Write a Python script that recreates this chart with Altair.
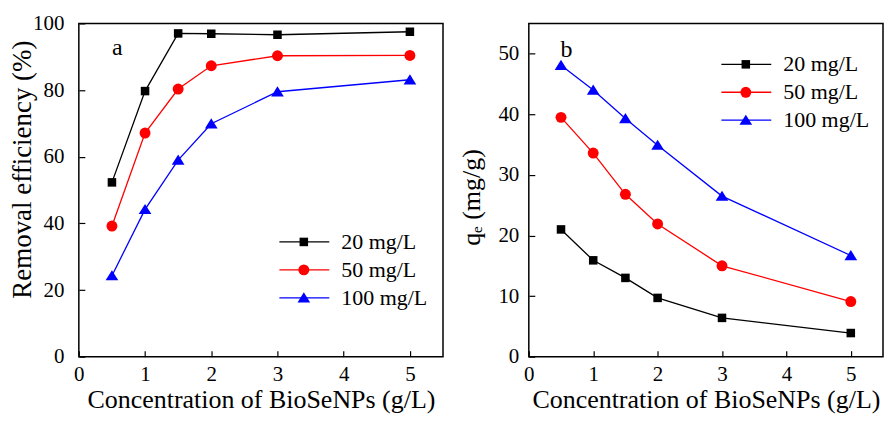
import altair as alt
import pandas as pd

# ---- data ----
x_dose = [0.5, 1, 1.5, 2, 3, 5]
series_labels = ["\u00a0\u00a020 mg/L", "\u00a0\u00a050 mg/L", "100 mg/L"]
series_keys = ["c20", "c50", "c100"]
series_colors = ["#000000", "#ff0000", "#0000ff"]

removal_20 = [52.3, 79.7, 97.0, 96.9, 96.6, 97.5]
removal_50 = [39.2, 67.1, 80.3, 87.3, 90.3, 90.4]
removal_100 = [24.3, 44.2, 59.0, 69.9, 79.5, 83.1]

qe_20 = [21.0, 15.9, 13.0, 9.7, 6.4, 3.9]
qe_50 = [39.5, 33.6, 26.8, 21.9, 15.0, 9.1]
qe_100 = [48.1, 44.0, 39.3, 34.9, 26.5, 16.7]

x_ticks = [0, 0.5, 1, 1.5, 2, 2.5, 3, 3.5, 4, 4.5, 5]
y_ticks_a = [0, 10, 20, 30, 40, 50, 60, 70, 80, 90, 100]
y_ticks_b = [0, 5, 10, 15, 20, 25, 30, 35, 40, 45, 50]

tags = ["a", "b"]
tag_x = [0.58, 0.586]
tag_y = [90.4, 49.4]

FONT = "Liberation Serif"
SQUARE = "M-0.78,-0.78H0.78V0.78H-0.78Z"
TRIANGLE = "M0,-1L1.16,0.85L-1.16,0.85Z"
LINE_SYM = "M-5,0H5"
series_shapes = [SQUARE, "circle", TRIANGLE]


def long_df(rows):
    recs = []
    for lab, key, vals in zip(series_labels, series_keys, rows):
        for x, v in zip(x_dose, vals):
            recs.append({"x": x, "v": v, "s": lab, "k": key})
    return pd.DataFrame(recs)


def panel(df, ydomain, yticks, yevery, ytitle, ytitle_size, ytitle_y, width,
          ylab_pad, ytitle_pad, lx, ly, tag, tx, ty):
    xscale = alt.Scale(domain=[0, 5.5], nice=False, zero=False)
    yscale = alt.Scale(domain=ydomain, nice=False, zero=False)
    xaxis = alt.Axis(
        values=x_ticks, format="d",
        labelExpr="datum.value % 1 === 0 ? datum.label : ''",
        offset=-6, tickSize=6, tickWidth=1.2, domain=False, grid=False,
        labelPadding=7, labelFlush=False, labelOverlap=False,
        labelFont=FONT, labelFontSize=21, labelColor="black",
        title="Concentration of BioSeNPs (g/L)",
        titleFont=FONT, titleFontSize=26, titlePadding=2,
    )
    yaxis = alt.Axis(
        values=yticks, format="d",
        labelExpr="datum.value %% %d === 0 ? datum.label : ''" % yevery,
        offset=-6, tickSize=6, tickWidth=1.2, domain=False, grid=False,
        labelPadding=ylab_pad, labelFlush=False, labelOverlap=False,
        labelFont=FONT, labelFontSize=21, labelColor="black",
        title=ytitle, titleFont=FONT, titleFontSize=ytitle_size,
        titlePadding=ytitle_pad, titleY=ytitle_y,
    )
    line = alt.Chart(df).mark_line(strokeWidth=1.3).encode(
        x=alt.X("x:Q", scale=xscale, axis=xaxis),
        y=alt.Y("v:Q", scale=yscale, axis=yaxis),
        color=alt.Color(
            "s:N",
            scale=alt.Scale(domain=series_labels, range=series_colors),
            legend=alt.Legend(
                orient="none", legendX=lx + 20, legendY=ly, title=None,
                symbolType=LINE_SYM, symbolSize=100, symbolStrokeWidth=1.3,
                labelFont=FONT, labelFontSize=22, labelOffset=26,
                labelColor="black", padding=0, rowPadding=6,
            ),
        ),
    )
    pt_legend = alt.Legend(
        orient="none", legendX=lx + 19.5, legendY=ly, title=None,
        symbolSize=120, symbolStrokeWidth=0, symbolOpacity=1,
        labelFont=FONT, labelFontSize=22, labelOffset=6,
        labelExpr="''", padding=0, rowPadding=6,
    )
    pts = alt.Chart(df).mark_point(filled=True, opacity=1, size=120,
                                   strokeWidth=0).encode(
        x=alt.X("x:Q"),
        y=alt.Y("v:Q"),
        fill=alt.Fill("k:N",
                      scale=alt.Scale(domain=series_keys, range=series_colors),
                      legend=pt_legend),
        shape=alt.Shape("k:N",
                        scale=alt.Scale(domain=series_keys, range=series_shapes),
                        legend=pt_legend),
    )
    txt = alt.Chart(pd.DataFrame({"x": [tx], "v": [ty], "t": [tag]})).mark_text(
        font=FONT, fontSize=24, align="center", baseline="alphabetic",
        color="black",
    ).encode(x="x:Q", y="v:Q", text="t:N")
    return alt.layer(line, pts, txt).properties(width=width, height=334)


left = panel(long_df([removal_20, removal_50, removal_100]), [0, 100],
             y_ticks_a, 20, "Removal efficiency (%)", 27, 146, 365, 15, -4.5,
             195, 208, tags[0], tag_x[0], tag_y[0])
right = panel(long_df([qe_20, qe_50, qe_100]), [0, 55],
              y_ticks_b, 10, "q\u2091 (mg/g)", 26, 174, 355, 10, 13,
              187, 30, tags[1], tag_x[1], tag_y[1])

chart = alt.hconcat(left, right, spacing=86, bounds="flush").resolve_scale(
    color="independent", fill="independent", shape="independent"
).resolve_legend(
    color="independent", fill="independent", shape="independent"
).properties(
    padding={"left": 0, "top": 3, "right": 0, "bottom": 0},
    background="white",
).configure_axis(
    labelFont=FONT, titleFont=FONT, labelColor="black", titleColor="black",
    tickColor="black", titleFontWeight="normal",
).configure_view(
    stroke="black", strokeWidth=1.5,
)

chart.save("out.html", embed_options={"renderer": "svg", "actions": False})
